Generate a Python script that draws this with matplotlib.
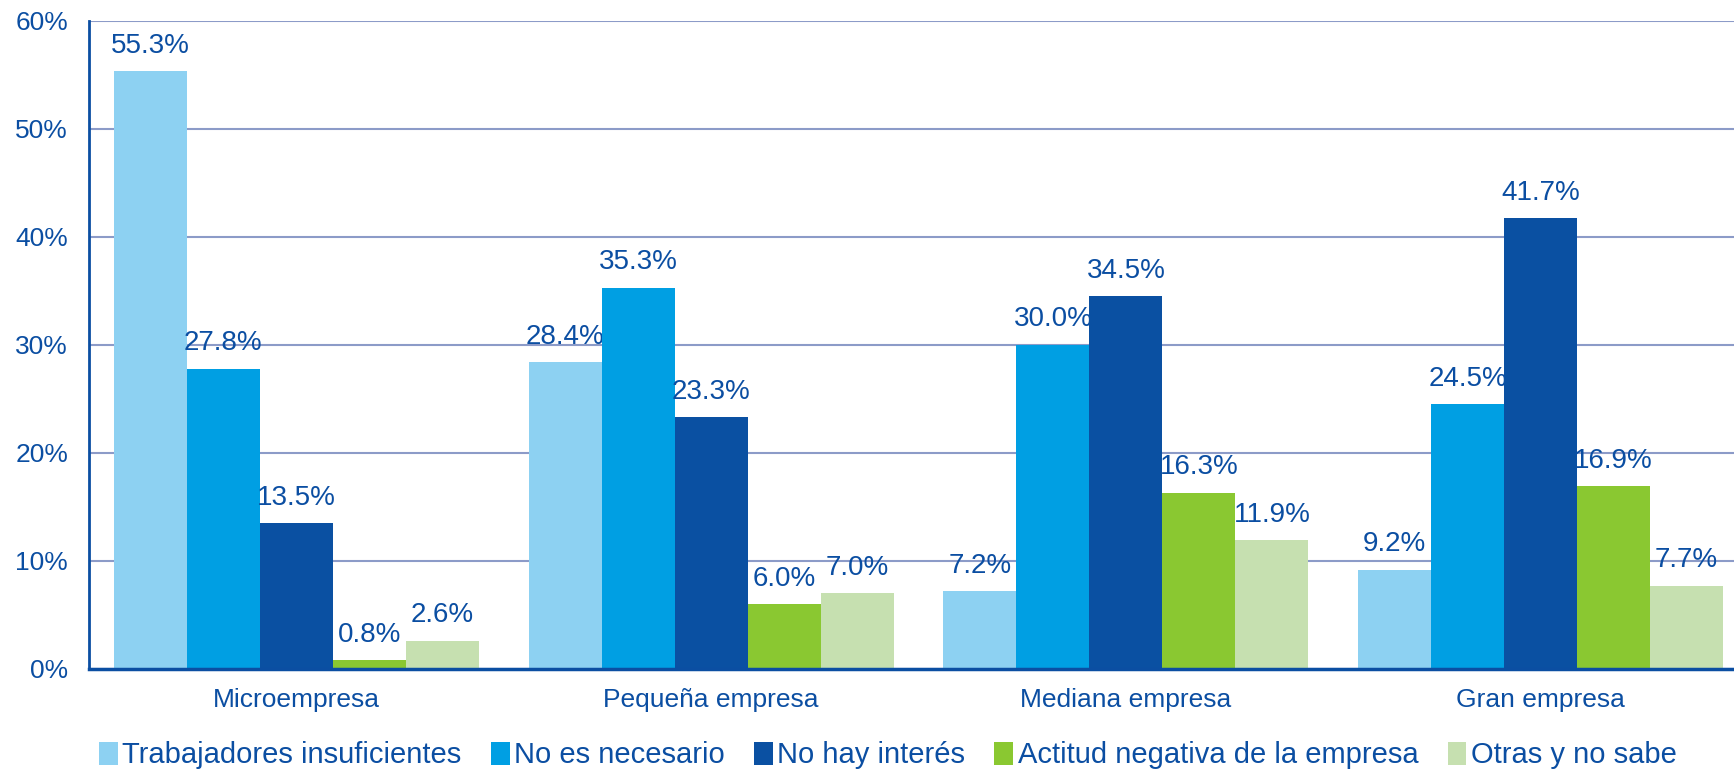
import matplotlib.pyplot as plt
import numpy as np

plt.rcParams['font.family'] = ['Liberation Sans', 'DejaVu Sans']

# Datos del gráfico
categorias = ["Microempresa", "Pequeña empresa", "Mediana empresa", "Gran empresa"]
series = ["Trabajadores insuficientes", "No es necesario", "No hay interés",
          "Actitud negativa de la empresa", "Otras y no sabe"]
trabajadores = [55.3, 28.4, 7.2, 9.2]
no_necesario = [27.8, 35.3, 30.0, 24.5]
no_interes = [13.5, 23.3, 34.5, 41.7]
actitud = [0.8, 6.0, 16.3, 16.9]
otras = [2.6, 7.0, 11.9, 7.7]

valores = [trabajadores, no_necesario, no_interes, actitud, otras]
colores = ["#8DD1F2", "#009FE3", "#0A50A2", "#8AC831", "#C6E0B0"]
azul_texto = "#0B4EA2"

fig = plt.figure(figsize=(17.34, 7.74), dpi=100)
# el eje se sale un poco por la derecha, como en el original
ax = fig.add_axes([0.0513, 0.1357, 0.9568, 0.8376])

x = np.arange(len(categorias))
ancho = 0.176
for i, (serie, vals, col) in enumerate(zip(series, valores, colores)):
    pos = x + (i - 2) * ancho
    barras = ax.bar(pos, vals, ancho, color=col, label=serie, zorder=3)
    for b, v in zip(barras, vals):
        ax.annotate(f"{v:.1f}%", (b.get_x() + b.get_width() / 2, v),
                    xytext=(0, 9), textcoords="offset points",
                    ha="center", va="bottom", fontsize=20, color=azul_texto)

ax.set_xlim(-0.5, 3.5)
ax.set_ylim(0, 60)
ax.set_yticks(range(0, 61, 10))
ax.set_yticklabels([f"{t}%" for t in range(0, 61, 10)])
ax.set_xticks(x)
ax.set_xticklabels(categorias)
ax.tick_params(axis="both", length=0, labelsize=19, colors=azul_texto)
ax.tick_params(axis="x", pad=14)
ax.tick_params(axis="y", pad=15)

ax.grid(axis="y", color="#8C9BC8", linewidth=1.5, zorder=0)
for lado in ["top", "right"]:
    ax.spines[lado].set_visible(False)
ax.spines["left"].set_color(azul_texto)
ax.spines["left"].set_linewidth(2)
ax.spines["bottom"].set_color(azul_texto)
ax.spines["bottom"].set_linewidth(2.5)
ax.spines["bottom"].set_zorder(4)

leg = fig.legend(loc="center", bbox_to_anchor=(0.512, 0.024), ncol=5, frameon=False,
                 fontsize=21, handlelength=0.65, handleheight=0.85, handletextpad=0.15,
                 columnspacing=1.0, borderpad=0)
for t in leg.get_texts():
    t.set_color(azul_texto)

fig.savefig("out.png", dpi=100)
plt.close(fig)
